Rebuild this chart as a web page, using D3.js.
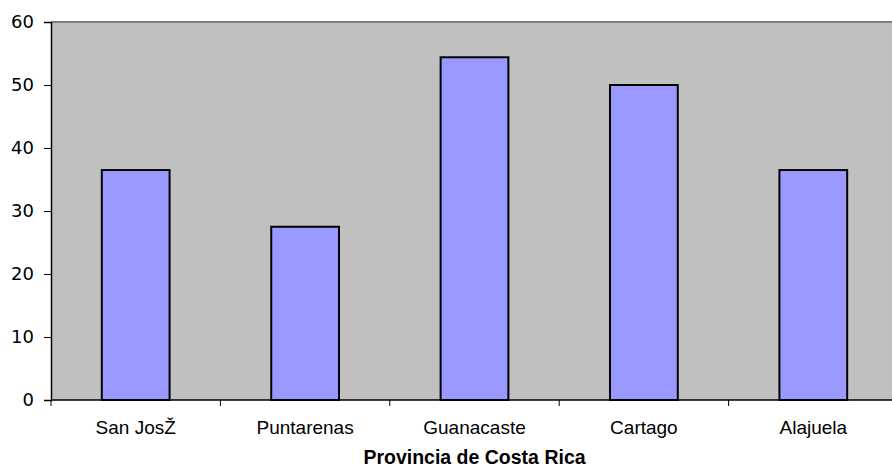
<!DOCTYPE html>
<html>
<head>
<meta charset="utf-8">
<script src="https://cdn.jsdelivr.net/npm/d3@7"></script>
<style>
  html, body { margin: 0; padding: 0; background: #ffffff; }
  svg { display: block; }
</style>
</head>
<body>
<svg id="chart" width="892" height="467"></svg>
<script>
const categories = ["San JosŽ", "Puntarenas", "Guanacaste", "Cartago", "Alajuela"];
const values = [36.5, 27.5, 54.4, 50.0, 36.5];
const yTicks = [0, 10, 20, 30, 40, 50, 60];
const xTitle = "Provincia de Costa Rica";

const svg = d3.select("#chart");
const plotLeft = 51, plotTop = 22, plotBottom = 400, plotRight = 898;

const x = d3.scaleBand().domain(categories).range([plotLeft, plotRight]).paddingInner(0.6).paddingOuter(0.3);
const y = d3.scaleLinear().domain([0, 60]).range([plotBottom, plotTop]);

// plot background
svg.append("rect")
  .attr("x", plotLeft).attr("y", plotTop)
  .attr("width", plotRight - plotLeft).attr("height", plotBottom - plotTop)
  .attr("fill", "#C0C0C0");

// top border
svg.append("line")
  .attr("x1", plotLeft).attr("x2", plotRight)
  .attr("y1", plotTop).attr("y2", plotTop)
  .attr("stroke", "#808080").attr("stroke-width", 2);

// bars
svg.selectAll("rect.bar")
  .data(values)
  .enter().append("rect")
  .attr("class", "bar")
  .attr("x", (d, i) => x(categories[i]))
  .attr("y", d => y(d))
  .attr("width", x.bandwidth())
  .attr("height", d => y(0) - y(d))
  .attr("fill", "#9999FF")
  .attr("stroke", "#000000")
  .attr("stroke-width", 2);

// y axis
const yAxis = svg.append("g")
  .attr("transform", `translate(${plotLeft},0)`)
  .call(d3.axisLeft(y).tickValues(yTicks).tickSize(7).tickPadding(10).tickFormat(d3.format("d")));
yAxis.select(".domain").attr("stroke", "#000").attr("stroke-width", 1.5);
yAxis.selectAll(".tick line").attr("stroke", "#000");
yAxis.selectAll(".tick text")
  .attr("font-family", "'DejaVu Sans', Verdana, sans-serif")
  .attr("font-size", "18px")
  .attr("fill", "#000");

// x axis baseline
svg.append("line")
  .attr("x1", plotLeft).attr("x2", plotRight)
  .attr("y1", plotBottom).attr("y2", plotBottom)
  .attr("stroke", "#000").attr("stroke-width", 1.5);

// x boundary ticks
const boundaries = categories.map(c => x(c) - x.step() * x.paddingOuter()).concat([plotRight]);
svg.selectAll("line.xtick")
  .data(boundaries)
  .enter().append("line")
  .attr("class", "xtick")
  .attr("x1", d => d).attr("x2", d => d)
  .attr("y1", plotBottom).attr("y2", plotBottom + 6)
  .attr("stroke", "#000");

// x labels
svg.selectAll("text.xlabel")
  .data(categories)
  .enter().append("text")
  .attr("class", "xlabel")
  .attr("x", d => x(d) + x.bandwidth() / 2)
  .attr("y", 433.5)
  .attr("text-anchor", "middle")
  .attr("font-family", "'Liberation Sans', Arial, sans-serif")
  .attr("font-size", "19px")
  .attr("fill", "#000")
  .text(d => d);

// x title
svg.append("text")
  .attr("x", (plotLeft + plotRight) / 2)
  .attr("y", 464)
  .attr("text-anchor", "middle")
  .attr("font-family", "'Liberation Sans', Arial, sans-serif")
  .attr("font-size", "19.5px")
  .attr("font-weight", "bold")
  .attr("fill", "#000")
  .text(xTitle);
</script>
</body>
</html>
